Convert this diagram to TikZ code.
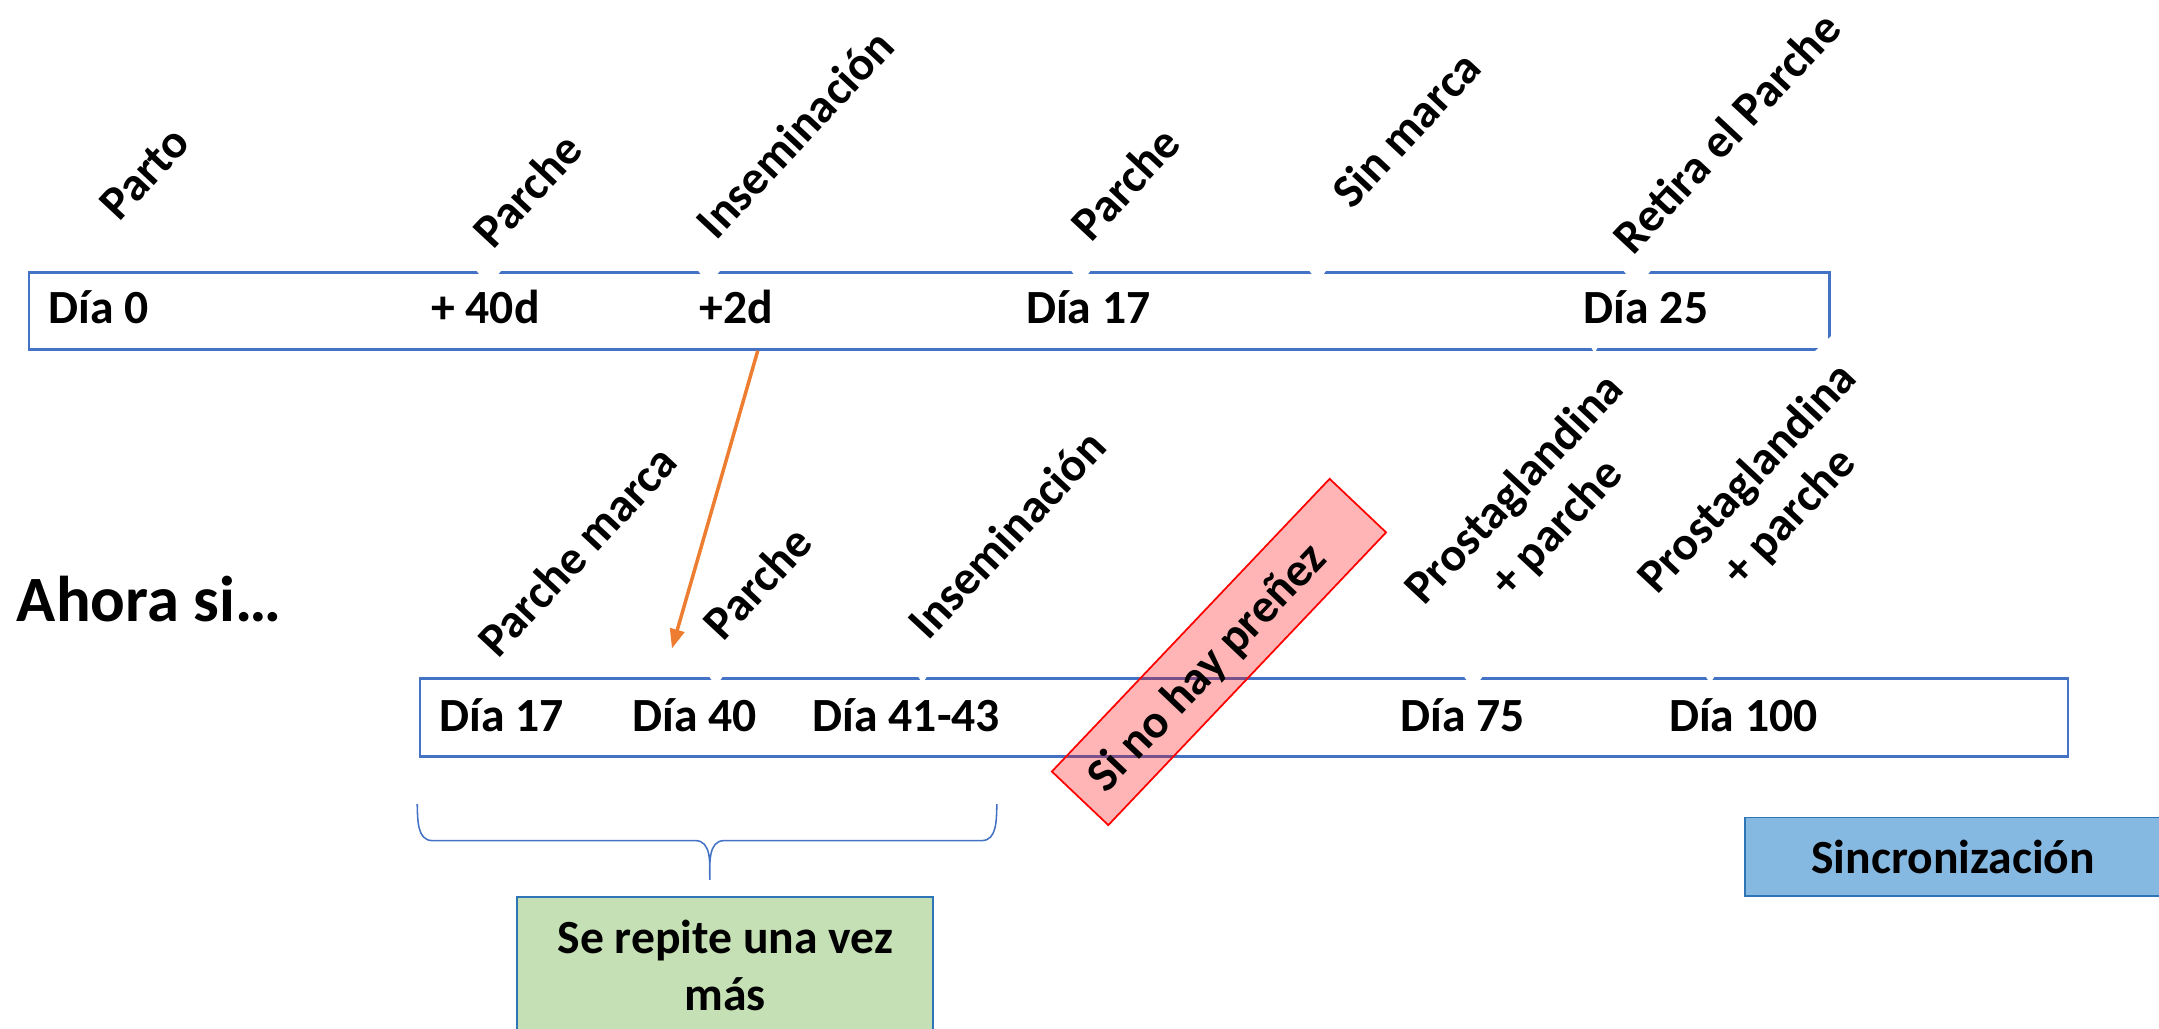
\documentclass[tikz,border=0pt]{standalone}
\usepackage{fontspec}
\setmainfont{Carlito}
\usetikzlibrary{arrows.meta,calc}
\definecolor{boxblue}{HTML}{4472C4}
\definecolor{orangeA}{HTML}{ED7D31}
\definecolor{syncfill}{HTML}{86B9E1}
\definecolor{syncdraw}{HTML}{2E75B6}
\definecolor{greenfill}{HTML}{C5E0B4}
\newcommand\lblfont{\bfseries\fontsize{24.6}{29.5}\selectfont}
\begin{document}
\begin{tikzpicture}[x=0.025cm, y=-0.025cm,
  lbl/.style={font=\lblfont, inner sep=1pt, rotate=47, align=center},
  daytxt/.style={font=\lblfont, inner sep=0pt, anchor=base west},
  tline/.style={draw=boxblue, line width=1.5pt, inner sep=0pt, anchor=north west},
  arrowline/.style={draw=orangeA, line width=1.8pt, -{Triangle[length=10pt,width=7.5pt]}},
  bracelin/.style={draw=boxblue, line width=0.8pt}]
\useasboundingbox (0,0) rectangle (1568,747);
\clip (0,0) rectangle (1568,747);

% timeline boxes
\node[tline, minimum width=32.675cm, minimum height=1.39cm] (topbox) at (20,197) {};
\node[tline, minimum width=29.9125cm, minimum height=1.4225cm] (botbox) at (304,491.4) {};

% notches left by the white label boxes
\foreach \xc/\yc/\w in {355/197/11, 515/197/10, 785/197/9, 957/197/8, 1189/197/12,
                        1158/252.5/4, 520/491.4/7, 670/491.4/5, 1070/491.4/9, 1242/491.4/5}
  \fill[white] (\xc-\w,\yc-3) -- (\xc+\w,\yc-3) -- (\xc,\yc+\w) -- cycle;
\fill[white] (1315,258) -- (1331,258) -- (1331,243) -- cycle;

% top row texts
\node[daytxt] (t0) at (35,235) {Día 0};
\node[daytxt] (t40) at (313,235) {+ 40d};
\node[daytxt] (t2) at (508,235) {+2d};
\node[daytxt] (t17) at (745,235) {Día 17};
\node[daytxt] (t25) at (1150,235) {Día 25};

\node[lbl] (lparto) at (105,126) {Parto};
\node[lbl] (lparche1) at (383,138) {Parche};
\node[lbl] (linsem1) at (577,97) {Inseminación};
\node[lbl] (lparche2) at (817,133) {Parche};
\node[lbl] (lsin) at (1021,94) {Sin marca};
\node[lbl] (lretira) at (1254,96) {Retira el Parche};

% second row
\node[font=\bfseries\fontsize{33.4}{40}\selectfont, inner sep=0pt, anchor=base west] (ahora) at (12,451.7) {Ahora si…};

\node[daytxt] (b17) at (319,531) {Día 17};
\node[daytxt] (b40) at (459,531) {Día 40};
\node[daytxt] (b41) at (590,531) {Día 41-43};
\node[daytxt] (b75) at (1017,531) {Día 75};
\node[daytxt] (b100) at (1212,531) {Día 100};

\node[lbl] (lmarca) at (419,400) {Parche marca};
\node[lbl] (lparche3) at (550,423) {Parche};
\node[lbl] (linsem2) at (731,388) {Inseminación};
\node[lbl] (lpros1) at (1116,370) {Prostaglandina\\+ parche};
\node[lbl] (lpros2) at (1285,362) {Prostaglandina\\+ parche};

% no pregnancy box
\node[draw=red, fill=red, fill opacity=0.29, line width=0.9pt, rotate=46.5,
      minimum width=7.325cm, minimum height=1.4125cm] (nopreg) at (885.3,473.5) {};
\node[lbl, rotate=-0.5] (nopregtxt) at ($(nopreg.center)+(-8,12)$) {Si no hay preñez};

% orange arrow
\coordinate (arrS) at ($(topbox.south west)!0.405!(topbox.south east)$);
\coordinate (arrE) at (488,471);
\draw[arrowline] (arrS) -- (arrE);

% brace
\draw[bracelin] (303,584) to[out=-88,in=180] (314,610.5) -- (505,610.5)
   to[out=0,in=90] (515.5,639) to[out=90,in=180] (526,610.5) -- (713,610.5)
   to[out=0,in=-92] (724,584);

% green box
\node[draw=syncdraw, fill=greenfill, line width=1pt, anchor=north west, inner sep=0pt,
      minimum width=7.55cm, minimum height=2.475cm, font=\lblfont, align=center]
      (repite) at (375,651) {Se repite una vez\\más};

% synchronisation box
\node[draw=syncdraw, fill=syncfill, line width=1pt, anchor=north west, inner sep=0pt,
      minimum width=7.5625cm, minimum height=1.425cm, font=\lblfont]
      (sinc) at (1266.5,593) {Sincronización};
\end{tikzpicture}
\end{document}
